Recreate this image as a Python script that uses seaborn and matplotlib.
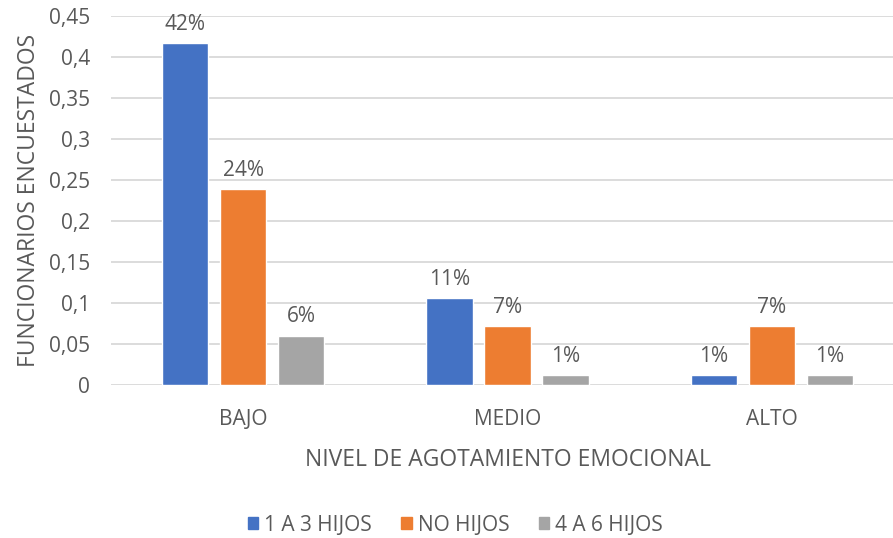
import matplotlib
matplotlib.use("Agg")
import matplotlib.pyplot as plt
import seaborn as sns
import pandas as pd

# datos
niveles = ["BAJO", "MEDIO", "ALTO"]
grupos = ["1 A 3 HIJOS", "NO HIJOS", "4 A 6 HIJOS"]
uno_a_tres = [0.417, 0.106, 0.012]
no_hijos = [0.239, 0.072, 0.072]
cuatro_a_seis = [0.060, 0.012, 0.012]
etiquetas = {
    "1 A 3 HIJOS": ["42%", "11%", "1%"],
    "NO HIJOS": ["24%", "7%", "7%"],
    "4 A 6 HIJOS": ["6%", "1%", "1%"],
}
colores = ["#4472C4", "#ED7D31", "#A5A5A5"]
yticks = [0, 0.05, 0.1, 0.15, 0.2, 0.25, 0.3, 0.35, 0.4, 0.45]

df = pd.DataFrame({
    "nivel": niveles * 3,
    "grupo": [grupos[0]] * 3 + [grupos[1]] * 3 + [grupos[2]] * 3,
    "valor": uno_a_tres + no_hijos + cuatro_a_seis,
})

sns.set_style("white")
plt.rcParams["font.family"] = ["Open Sans", "DejaVu Sans"]
gris = "#595959"

fig = plt.figure(figsize=(8.93, 5.38), dpi=100)
ax = fig.add_axes([0.1243, 0.2844, 0.888, 0.6859])

sns.barplot(data=df, x="nivel", y="valor", hue="grupo", order=niveles,
            hue_order=grupos, palette=colores, width=0.658, gap=0.2,
            saturation=1, ax=ax, legend=False)

for cont, g in zip(ax.containers, grupos):
    ax.bar_label(cont, labels=etiquetas[g], padding=6, fontsize=15, color=gris)

ax.set_xlim(-0.5, 2.5)
ax.set_ylim(0, 0.45)
ax.set_yticks(yticks)
ax.set_yticklabels([("%g" % v).replace(".", ",") for v in yticks])
ax.yaxis.grid(True, color="#d9d9d9", linewidth=1.3)
ax.set_axisbelow(True)
for s in ax.spines.values():
    s.set_visible(False)
ax.tick_params(axis="both", length=0, labelsize=15, labelcolor=gris)
ax.tick_params(axis="y", pad=15)
ax.tick_params(axis="x", pad=17)
ax.set_xlabel("NIVEL DE AGOTAMIENTO EMOCIONAL", fontsize=16.5, color=gris, labelpad=13)
ax.set_ylabel("FUNCIONARIOS ENCUESTADOS", fontsize=16.5, color=gris, labelpad=6)

handles = [plt.Rectangle((0, 0), 1, 1, color=c) for c in colores]
fig.legend(handles, grupos, loc="center", bbox_to_anchor=(0.51, 0.024), ncol=3,
           frameon=False, fontsize=15, labelcolor=gris, handlelength=0.5,
           handleheight=0.5, handletextpad=0.3, columnspacing=1.4)

fig.savefig("out.png", dpi=100)
